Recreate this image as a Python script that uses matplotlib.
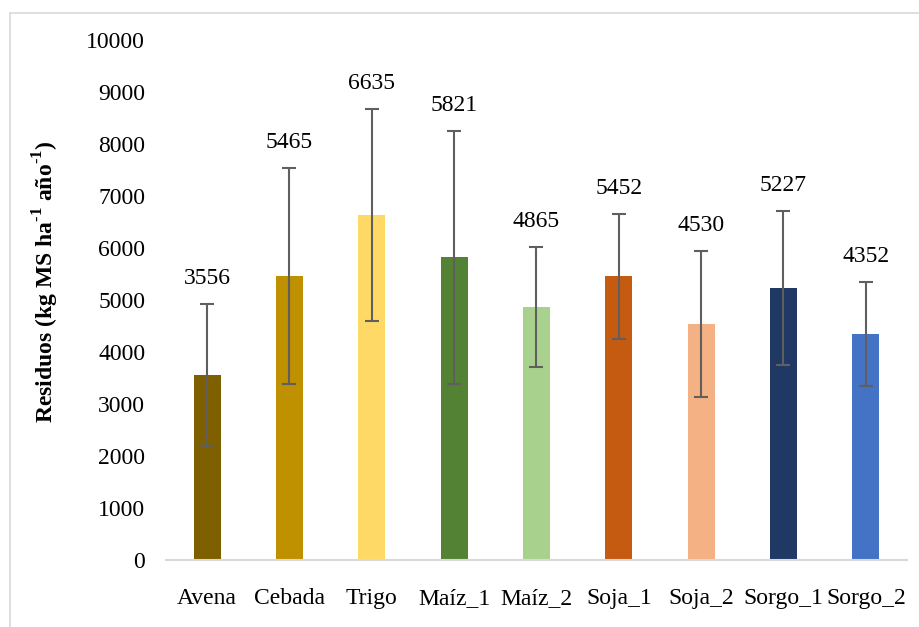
import matplotlib
matplotlib.use("Agg")
import matplotlib.pyplot as plt
from matplotlib.lines import Line2D

plt.rcParams['font.family'] = ['Liberation Serif', 'DejaVu Serif']
plt.rcParams['mathtext.fontset'] = 'custom'
plt.rcParams['mathtext.rm'] = 'Liberation Serif:bold'
plt.rcParams['mathtext.bf'] = 'Liberation Serif:bold'

categories = ['Avena', 'Cebada', 'Trigo', 'Maíz_1', 'Maíz_2', 'Soja_1', 'Soja_2', 'Sorgo_1', 'Sorgo_2']
residuos = [3556, 5465, 6635, 5821, 4865, 5452, 4530, 5227, 4352]
desvio = [1367, 2080, 2030, 2430, 1157, 1200, 1404, 1485, 1003]
colores = ['#7F6000', '#BF9000', '#FFD966', '#548235', '#A9D18E',
           '#C55A11', '#F4B183', '#203864', '#4472C4']
yticks = [0, 1000, 2000, 3000, 4000, 5000, 6000, 7000, 8000, 9000, 10000]

FS = 17

fig = plt.figure(figsize=(9.2, 6.27), dpi=100)
ax = fig.add_axes([166 / 920, 1 - 560 / 627, (907 - 166) / 920, (560 - 40) / 627])

x = list(range(len(categories)))
ax.bar(x, residuos, width=0.33, color=colores, zorder=2)
ax.errorbar(x, residuos, yerr=desvio, fmt='none', ecolor='#5f5f5f',
            elinewidth=1.5, capsize=5, capthick=1.5, zorder=3)

for xi, v, s in zip(x, residuos, desvio):
    ax.annotate(f'{v}', xy=(xi, v + s), xytext=(0, 15), textcoords='offset pixels',
                ha='center', va='bottom', fontsize=FS, color='#000000')

ax.set_xlim(-0.5, len(categories) - 0.5)
ax.set_ylim(0, 10000)
ax.set_yticks(yticks)
ax.set_yticklabels([str(t) for t in yticks], fontsize=FS)
ax.set_xticks(x)
ax.set_xticklabels(categories, fontsize=FS)
ax.tick_params(axis='y', length=0, pad=15)
ax.tick_params(axis='x', length=0, pad=20)

for side in ['top', 'right', 'left']:
    ax.spines[side].set_visible(False)
ax.spines['bottom'].set_color('#d9d9d9')
ax.spines['bottom'].set_linewidth(1.5)

fig.text(46 / 920, 1 - 282 / 627,
         r'Residuos (kg MS ha$^{\text{-1}}$ año$^{\text{-1}}$)',
         rotation=90, ha='center', va='center', fontsize=FS, fontweight='bold')

# chart area border
fig.add_artist(Line2D([10.5 / 920, 10.5 / 920], [0, 1 - 13 / 627],
                      transform=fig.transFigure, color='#d9d9d9', linewidth=1.2))
fig.add_artist(Line2D([10.5 / 920, 1], [1 - 13 / 627, 1 - 13 / 627],
                      transform=fig.transFigure, color='#d9d9d9', linewidth=1.2))

fig.savefig('out.png', dpi=100, facecolor='white')
